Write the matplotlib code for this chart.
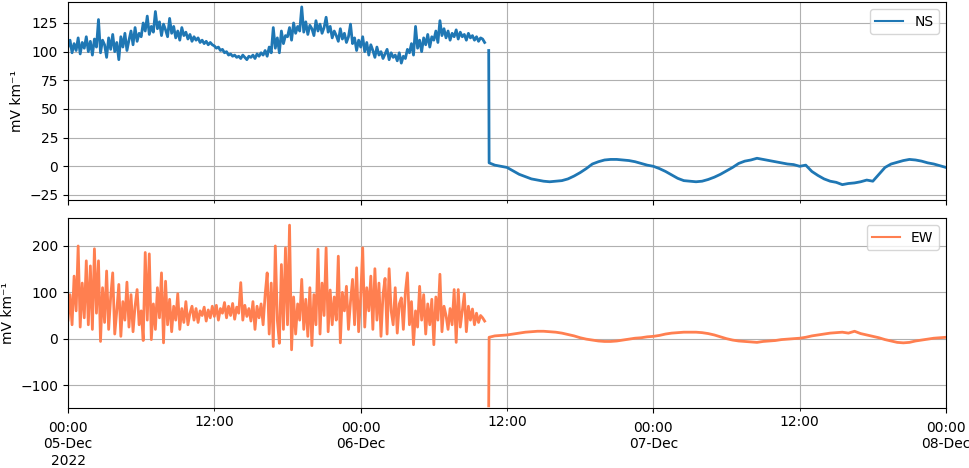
import numpy as np
import pandas as pd
import matplotlib
matplotlib.use("Agg")
import matplotlib.pyplot as plt
import matplotlib.dates as mdates

# NS field, 10-min samples 05-Dec 00:00 .. 06-Dec 10:10 (one row per hour)
ns_noisy = [
    104, 110, 99, 107, 101, 112,
    98, 108, 103, 113, 100, 109,
    97, 111, 104, 128, 99, 110,
    106, 95, 112, 102, 115, 100,
    108, 93, 113, 104, 116, 101,
    110, 118, 106, 121, 109, 116,
    113, 125, 118, 131, 115, 122,
    117, 135, 120, 126, 114, 124,
    119, 113, 129, 116, 122, 112,
    118, 110, 121, 114, 117, 111,
    115, 109, 113, 110, 112, 108,
    110, 107, 109, 106, 108, 106,
    105, 103, 104, 101, 102, 99,
    100, 97, 98, 96, 97, 95,
    96, 94, 97, 95, 93, 96,
    95, 97, 94, 98, 96, 99,
    97, 101, 96, 104, 99, 121,
    103, 112, 99, 118, 107, 114,
    113, 121, 110, 125, 116, 122,
    118, 139, 117, 126, 115, 123,
    120, 114, 127, 118, 124, 116,
    121, 130, 117, 122, 112, 118,
    114, 109, 120, 111, 116, 108,
    113, 124, 107, 112, 101, 110,
    104, 113, 100, 108, 97, 106,
    101, 95, 104, 97, 100, 94,
    98, 102, 93, 99, 95, 97,
    92, 99, 90, 96, 94, 102,
    99, 107, 97, 122, 103, 110,
    100, 112, 106, 115, 104, 113,
    110, 118, 108, 127, 114, 120,
    112, 118, 110, 116, 113, 119,
    111, 117, 113, 115, 110, 116,
    112, 114, 110, 113, 109, 112,
    111, 108,
]

# EW field, same 10-min samples
ew_noisy = [
    40, 95, 30, 135, 60, 200,
    25, 120, 45, 168, 30, 157,
    20, 194, 55, 168, -6, 110,
    35, 146, 20, 90, 142, 10,
    60, 117, 5, 80, 40, 122,
    25, 95, 15, 70, 106, 30,
    60, -4, 186, 40, 183, -2,
    75, 20, 110, 45, 142, -9,
    124, 30, 85, 15, 70, 40,
    97, 20, 65, 35, 80, 30,
    55, 70, 40, 65, 35, 60,
    50, 68, 38, 62, 45, 70,
    48, 72, 40, 65, 55, 78,
    45, 70, 50, 76, 42, 68,
    55, 121, 40, 72, 48, 65,
    38, 80, 20, 70, 45, 75,
    30, 95, 142, 10, 120, -17,
    200, 40, -10, 160, 20, 196,
    30, 245, -24, 90, 10, 75,
    40, 128, 20, 85, 5, 110,
    -15, 95, 30, 193, 10, 120,
    50, 196, 15, 105, 30, 90,
    40, 178, -9, 100, 60, 113,
    20, 80, 128, 30, 153, 15,
    90, 196, 25, 110, 60, 135,
    20, 151, 40, 120, 5, 95,
    130, 10, 151, 60, 30, 110,
    12, 75, 88, 20, 100, 142,
    30, 80, -13, 60, 25, 113,
    40, 95, 10, 75, 30, 85,
    -13, 90, 40, 139, 15, 70,
    50, 20, 65, 30, 106, -8,
    106, 25, 60, 97, 15, 70,
    40, 64, 30, 55, 35, 50,
    45, 38,
]

# reset jump at 06-Dec 10:30
ns_jump = [101, 3]
ew_jump = [-145, 3]

# 30-min samples 06-Dec 11:00 .. 08-Dec 00:00
ns_quiet = [
    1, 0, -1, -4, -7, -9, -11, -12, -13, -13.5, -13, -12.5,
    -11, -8.5, -5.5, -2, 2, 4, 5.5, 6, 6, 5.5, 5, 4,
    2.5, 1, 0, -2, -4.5, -7.5, -10.5, -12.5, -13, -13.5, -13, -11.5,
    -9.5, -7, -4, -1, 2.5, 4.5, 5.5, 7, 6, 5, 4, 3,
    2, 1.5, 0, 1, -4.5, -8, -11, -13, -14, -16, -15, -14.5,
    -13.5, -12, -13, -7, -1, 2, 3.5, 5, 6, 5.5, 4.5, 3,
    2, 0.5, -1,
]
ew_quiet = [
    6, 7, 8, 10, 12, 14, 15, 16, 16, 15, 14, 12,
    9, 6, 2, -1, -3, -5, -6, -6, -5, -3, -1, 1,
    2, 4, 5, 7, 10, 12, 13, 14, 14, 14, 13, 11,
    8, 4, 0, -3, -5, -6, -7, -8, -6, -5, -4, -2,
    -1, 0, 1, 3, 6, 8, 10, 12, 13, 14, 12, 16,
    11, 8, 5, 2, -2, -5, -8, -9, -8, -5, -3, -1,
    1, 2, 3,
]

t_noisy = pd.date_range("2022-12-05 00:00", periods=len(ns_noisy), freq="10min")
t_gap = pd.DatetimeIndex(["2022-12-06 10:20"])
t_jump = pd.DatetimeIndex(["2022-12-06 10:30", "2022-12-06 10:32"])
t_quiet = pd.date_range("2022-12-06 11:00", periods=len(ns_quiet), freq="30min")
t = t_noisy.append(t_gap).append(t_jump).append(t_quiet)

ns = np.concatenate([ns_noisy, [np.nan], ns_jump, ns_quiet])
ew = np.concatenate([ew_noisy, [np.nan], ew_jump, ew_quiet])

fig, (ax1, ax2) = plt.subplots(2, 1, sharex=True, figsize=(9.7, 4.68), dpi=100)
ax1.set_position([68 / 970, 1 - 200 / 468, 878 / 970, 198 / 468])
ax2.set_position([68 / 970, 1 - 408 / 468, 878 / 970, 190 / 468])

ax1.plot(t, ns, color="#1f77b4", lw=2.0, label="NS")
ax2.plot(t, ew, color="coral", lw=2.0, label="EW")

ax1.set_ylim(-29.4, 143.3)
ax1.set_yticks([-25, 0, 25, 50, 75, 100, 125])
ax2.set_ylim(-149.6, 260.4)
ax2.set_yticks([-100, 0, 100, 200])

for ax in (ax1, ax2):
    ax.set_ylabel("mV km\u207b\u00b9")
    ax.grid(True, which="both")
    leg = ax.legend(loc="upper right")
    for h in leg.get_lines():
        h.set_linewidth(1.5)

ax2.set_xlim(pd.Timestamp("2022-12-05"), pd.Timestamp("2022-12-08"))
ax2.xaxis.set_major_locator(mdates.HourLocator(byhour=[0]))
ax2.xaxis.set_minor_locator(mdates.HourLocator(byhour=[12]))


def major_fmt(x, pos):
    d = mdates.num2date(x)
    s = d.strftime("%H:%M\n%d-%b")
    if pos == 0:
        s += d.strftime("\n%Y")
    return s


ax2.xaxis.set_major_formatter(plt.FuncFormatter(major_fmt))
ax2.xaxis.set_minor_formatter(mdates.DateFormatter("%H:%M"))
ax2.tick_params(axis="x", which="major", pad=6)
plt.setp(ax2.get_xticklabels(which="both"), rotation=0, ha="center")

fig.savefig("out.png", dpi=100)
